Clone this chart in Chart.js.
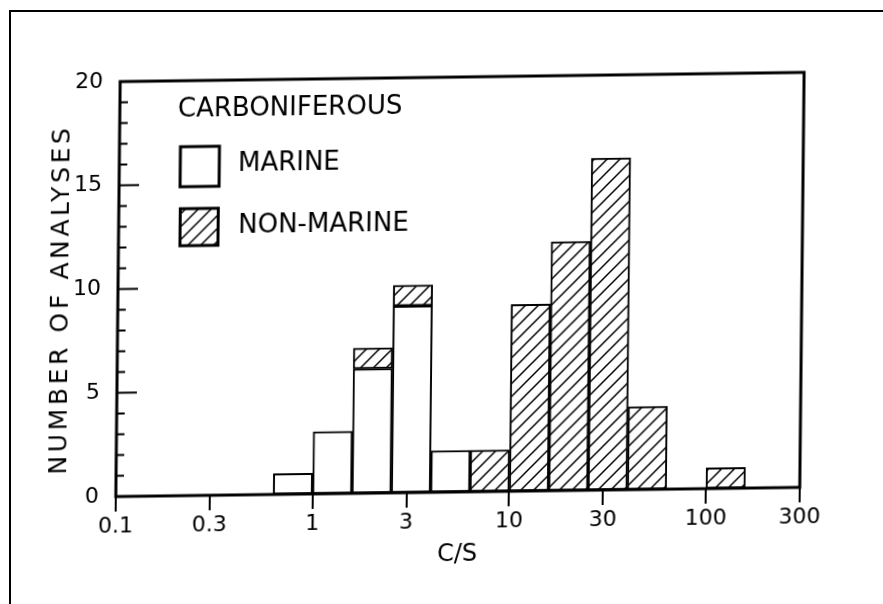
<!DOCTYPE html>
<html><head><meta charset="utf-8">
<script src="https://cdn.jsdelivr.net/npm/chart.js@4/dist/chart.umd.min.js"></script>
<style>
html,body{margin:0;padding:0;background:#fff;}
#wrap{position:relative;width:883px;height:604px;overflow:hidden;background:#fff;}
#frame{position:absolute;left:9px;top:10px;width:900px;height:700px;border-left:2.5px solid #000;border-top:2.5px solid #000;pointer-events:none;}
canvas{position:absolute;left:0;top:0;transform-origin:460px 285px;transform:skew(-0.6deg,-0.77deg);}
</style></head><body>
<div id="wrap"><canvas id="c" width="883" height="604"></canvas><div id="frame"></div></div>
<script>
// ---- data ----
const binEdges = [0.631, 1, 1.585, 2.512, 3.981, 6.310, 10, 15.85, 25.12, 39.81, 63.10, 100, 158.5];
const marineCounts    = [1, 3, 6, 9, 2, 0, 0, 0, 0, 0, 0, 0];
const nonMarineCounts = [0, 0, 1, 1, 0, 2, 9, 12, 16, 4, 0, 1];
const xTickValues = [0.1, 0.3, 1, 3, 10, 30, 100, 300];
const xTickLabels = ['0.1', '0.3', '1', '3', '10', '30', '100', '300'];
const yMajorTicks = [0, 5, 10, 15, 20];
const legendTitle = 'CARBONIFEROUS';
const seriesNames = ['MARINE', 'NON-MARINE'];
const xTitle = 'C/S';
const yTitle = 'NUMBER OF ANALYSES';

const FONT = '"DejaVu Sans", sans-serif';

const binCenters = marineCounts.map((_, i) => Math.sqrt(binEdges[i] * binEdges[i + 1]));
const toPoints = arr => arr.map((v, i) => ({ x: binCenters[i], y: v === 0 ? null : v }));

function makeHatch() {
  const s = 13;
  const c = document.createElement('canvas');
  c.width = s; c.height = s;
  const g = c.getContext('2d');
  g.fillStyle = '#fff'; g.fillRect(0, 0, s, s);
  g.strokeStyle = '#000'; g.lineWidth = 1.5; g.lineCap = 'square';
  g.beginPath();
  g.moveTo(-2, s + 2); g.lineTo(s + 2, -2);
  g.moveTo(-2, 2); g.lineTo(2, -2);
  g.moveTo(s - 2, s + 2); g.lineTo(s + 2, s - 2);
  g.stroke();
  return g.createPattern(c, 'repeat');
}
const hatch = makeHatch();

const framePlugin = {
  id: 'frame',
  afterDatasetsDraw(chart) {
    const { ctx, chartArea: { left, right, top, bottom }, scales: { y } } = chart;
    ctx.save();
    ctx.strokeStyle = '#000';
    ctx.lineWidth = 3;
    ctx.strokeRect(left, top, right - left, bottom - top);
    ctx.lineWidth = 2;
    ctx.beginPath();
    for (let v = y.min; v <= y.max; v++) {
      const py = y.getPixelForValue(v);
      const len = yMajorTicks.includes(v) ? 20 : 8;
      ctx.moveTo(left, py); ctx.lineTo(left + len, py);
    }
    ctx.stroke();
    ctx.restore();
  },
  afterDraw(chart) {
    const ctx = chart.ctx;
    const ds = chart.data.datasets;
    ctx.save();
    ctx.fillStyle = '#000';
    // y axis title
    ctx.save();
    ctx.translate(61, 296);
    ctx.rotate(-Math.PI / 2);
    ctx.font = '25px ' + FONT;
    ctx.letterSpacing = '3.6px';
    ctx.textAlign = 'center';
    ctx.textBaseline = 'middle';
    ctx.fillText(yTitle, 1.8, 0);
    ctx.restore();
    // legend
    ctx.font = '26px ' + FONT;
    ctx.textAlign = 'left';
    ctx.textBaseline = 'middle';
    ctx.fillText(legendTitle, 176, 106);
    const boxes = [
      { x: 179, y: 143, w: 39, h: 40, tx: 236.7, ty: 161 },
      { x: 179.5, y: 205, w: 38, h: 37, tx: 237.5, ty: 223.5 }
    ];
    boxes.forEach((b, i) => {
      ctx.fillStyle = ds[i].backgroundColor;
      ctx.fillRect(b.x, b.y, b.w, b.h);
      ctx.strokeStyle = '#000';
      ctx.lineWidth = 3;
      ctx.strokeRect(b.x, b.y, b.w, b.h);
      ctx.fillStyle = '#000';
      ctx.fillText(ds[i].label, b.tx, b.ty);
    });
    ctx.restore();
  }
};

new Chart(document.getElementById('c'), {
  type: 'bar',
  data: {
    datasets: [
      { label: seriesNames[0], data: toPoints(marineCounts), backgroundColor: '#ffffff',
        borderColor: '#000', borderWidth: 2, borderSkipped: false,
        barPercentage: 1, categoryPercentage: 1 },
      { label: seriesNames[1], data: toPoints(nonMarineCounts), backgroundColor: hatch,
        borderColor: '#000', borderWidth: 2, borderSkipped: false,
        barPercentage: 1, categoryPercentage: 1 }
    ]
  },
  options: {
    responsive: false,
    animation: false,
    devicePixelRatio: 1,
    layout: { padding: { left: 0, top: 77, right: 81, bottom: 0 } },
    plugins: { legend: { display: false }, tooltip: { enabled: false } },
    scales: {
      x: {
        type: 'logarithmic', min: 0.1, max: 300, stacked: true, offset: false,
        afterBuildTicks: s => { s.ticks = xTickValues.map(v => ({ value: v })); },
        afterFit: s => { s.height = 112; },
        grid: { display: true, offset: false, drawOnChartArea: false, drawTicks: true, tickLength: 15, color: '#000', lineWidth: 2 },
        border: { display: false },
        ticks: { autoSkip: false, maxRotation: 0, padding: 2, color: '#000',
                 font: { family: FONT, size: 22 }, callback: (v, i) => xTickLabels[i] },
        title: { display: true, text: xTitle, color: '#000', font: { family: FONT, size: 24 },
                 padding: { top: 0, bottom: 35 } }
      },
      y: {
        type: 'linear', min: 0, max: 20, stacked: true,
        afterBuildTicks: s => { s.ticks = yMajorTicks.map(v => ({ value: v })); },
        afterFit: s => { s.width = 118; },
        grid: { display: false },
        border: { display: false },
        ticks: { padding: 9, color: '#000', font: { family: FONT, size: 22 } }
      }
    }
  },
  plugins: [framePlugin]
});
</script>
</body></html>
